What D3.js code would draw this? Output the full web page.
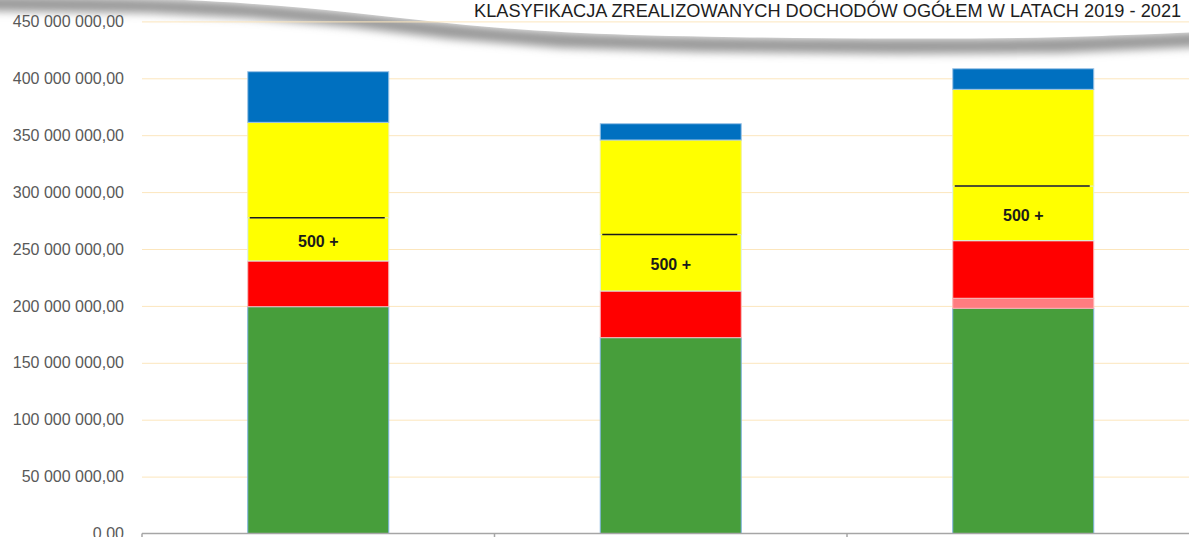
<!DOCTYPE html>
<html>
<head>
<meta charset="utf-8">
<script src="https://cdn.jsdelivr.net/npm/d3@7"></script>
<style>
  html, body { margin: 0; padding: 0; background: #fff; overflow: hidden; }
  #chart { width: 1189px; height: 537px; }
</style>
</head>
<body>
<div id="chart"></div>
<script>
// values (PLN)
const years = ['2019', '2020', '2021'];
const zielone = [199300000, 172100000, 197900000];
const rozowe = [0, 0, 8800000];
const czerwone = [40200000, 41000000, 50600000];
const program500 = [38000000, 49600000, 48100000];
const zolte = [83800000, 83100000, 84900000];
const niebieskie = [44500000, 14300000, 18100000];
const yTicks = [0, 50e6, 100e6, 150e6, 200e6, 250e6, 300e6, 350e6, 400e6, 450e6];
const title = 'KLASYFIKACJA ZREALIZOWANYCH DOCHODÓW OGÓŁEM W LATACH 2019 - 2021';
const label500 = '500 +';

const keys = ['zielone', 'rozowe', 'czerwone', 'program500', 'zolte', 'niebieskie'];
const colors = {
  zielone: '#479e3b', rozowe: '#ff7c80', czerwone: '#ff0000',
  program500: '#ffff00', zolte: '#ffff00', niebieskie: '#0070c0'
};
const strokes = {
  zielone: '#7fb2e0', rozowe: '#ffb3b3', czerwone: '#f4c0c0',
  program500: '#d6eef3', zolte: '#f0f0a0', niebieskie: '#9cc3e6'
};

const rows = years.map((year, i) => ({
  year,
  zielone: zielone[i], rozowe: rozowe[i], czerwone: czerwone[i],
  program500: program500[i], zolte: zolte[i], niebieskie: niebieskie[i]
}));

const width = 1189, height = 537;
const left = 142, right = 1199.5;

const svg = d3.select('#chart').append('svg')
  .attr('width', width)
  .attr('height', height)
  .attr('viewBox', `0 0 ${width} ${height}`);

// decorative swoosh at the top
const defs = svg.append('defs');
defs.append('filter').attr('id', 'blur')
  .attr('x', '-5%').attr('y', '-100%').attr('width', '110%').attr('height', '300%')
  .append('feGaussianBlur').attr('stdDeviation', 4.5);

const swoosh = [[-10, -4], [150, -2], [250, 3], [350, 12], [450, 24], [560, 33],
  [700, 37], [900, 39], [1060, 38], [1200, 32]];
const curve = d3.line().curve(d3.curveBasis);
const upper = curve(swoosh);
const lowerPts = swoosh.map(([x, y]) => [x, y + 15]).reverse();

svg.append('path')
  .attr('d', upper + 'L' + lowerPts.map(p => p.join(',')).join('L') + 'Z')
  .attr('fill', '#9a9a9a')
  .attr('filter', 'url(#blur)');
svg.append('path')
  .attr('d', upper + 'L1200,-30L-10,-30Z')
  .attr('fill', '#fff');

const x = d3.scaleBand()
  .domain(years)
  .range([left, right])
  .paddingInner(0.6)
  .paddingOuter(0.3);

const y = d3.scaleLinear()
  .domain([0, 450e6])
  .range([533.5, 21.4]);

const pl = d3.formatLocale({ decimal: ',', thousands: ' ', grouping: [3], currency: ['', ''] });
const fmt = pl.format(',.2f');

// gridlines
const grid = svg.append('g')
  .attr('transform', `translate(${left},0)`)
  .call(d3.axisLeft(y).tickValues(yTicks.slice(1)).tickSize(-(right - left)).tickFormat(''));
grid.select('.domain').remove();
grid.selectAll('line').attr('stroke', '#fce6bd').attr('stroke-width', 1);

// y labels
const yAxis = svg.append('g')
  .attr('transform', `translate(${left},0)`)
  .call(d3.axisLeft(y).tickValues(yTicks).tickFormat(fmt).tickSize(0).tickPadding(18));
yAxis.select('.domain').remove();
yAxis.selectAll('text')
  .attr('fill', '#595959')
  .style('font-family', '"Liberation Sans", Arial, sans-serif')
  .style('font-size', '16px');

// title
svg.append('text')
  .attr('x', 474)
  .attr('y', 17)
  .attr('fill', '#1e1e1e')
  .style('font-family', '"Liberation Sans", Arial, sans-serif')
  .style('font-size', '18.2px')
  .text(title);

// stacked bars
const series = d3.stack().keys(keys)(rows);

svg.append('g').selectAll('g')
  .data(series)
  .join('g')
  .attr('fill', d => colors[d.key])
  .attr('stroke', d => strokes[d.key])
  .attr('stroke-width', 1)
  .selectAll('rect')
  .data(d => d.filter(s => s[1] - s[0] > 0))
  .join('rect')
  .attr('x', d => x(d.data.year))
  .attr('y', d => y(d[1]))
  .attr('width', x.bandwidth())
  .attr('height', d => y(d[0]) - y(d[1]));

// 500+ marker line and label
const s500 = series.find(s => s.key === 'program500');
svg.append('g').selectAll('line')
  .data(s500)
  .join('line')
  .attr('x1', d => x(d.data.year) + 2)
  .attr('x2', d => x(d.data.year) + x.bandwidth() - 4)
  .attr('y1', d => y(d[1]))
  .attr('y2', d => y(d[1]))
  .attr('stroke', '#1a1a1a')
  .attr('stroke-width', 1.4);

svg.append('g').selectAll('text')
  .data(s500)
  .join('text')
  .attr('x', d => x(d.data.year) + x.bandwidth() / 2)
  .attr('y', d => (y(d[0]) + y(d[1])) / 2 + 2)
  .attr('dy', '0.35em')
  .attr('text-anchor', 'middle')
  .attr('fill', '#1a1a1a')
  .style('font-family', '"Liberation Sans", Arial, sans-serif')
  .style('font-size', '16px')
  .style('font-weight', 'bold')
  .text(label500);

// category axis
const step = x.step();
svg.append('line')
  .attr('x1', left).attr('x2', right)
  .attr('y1', y(0)).attr('y2', y(0))
  .attr('stroke', '#a6a6a6').attr('stroke-width', 1.5);
svg.append('g').selectAll('line')
  .data(d3.range(years.length + 1))
  .join('line')
  .attr('x1', i => left + i * step).attr('x2', i => left + i * step)
  .attr('y1', y(0)).attr('y2', y(0) + 6)
  .attr('stroke', '#a6a6a6').attr('stroke-width', 1.5);
</script>
</body>
</html>
